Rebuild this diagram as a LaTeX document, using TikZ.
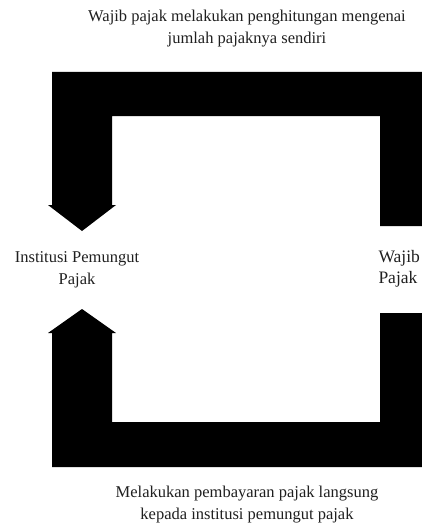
\documentclass[tikz,border=0pt]{standalone}
\usepackage{fontspec}
\setmainfont{Liberation Serif}
\tikzset{
  band/.style={fill=black, draw=none},
  lbl/.style={inner sep=0pt, outer sep=0pt, text=black!88, font=\fontsize{16.5}{22}\selectfont},
  biglbl/.style={lbl, font=\fontsize{17.5}{21}\selectfont}
}
\begin{document}
\begin{tikzpicture}[x=1pt, y=-1pt]
\useasboundingbox (0,0) rectangle (422,524);
\clip (0,0) rectangle (422,524);
% upper arrow: from Wajib Pajak to Institusi Pemungut Pajak
\fill[band] (422,72) -- (52,72) -- (52,205) -- (48,205) -- (82,231) -- (116,205) -- (112,205)
  -- (112,116) -- (380,116) -- (380,226) -- (424,226) -- (424,72) -- cycle;
% lower arrow: from Wajib Pajak back to Institusi Pemungut Pajak
\fill[band] (82,309) -- (116,333) -- (112,333) -- (112,422) -- (380,422) -- (380,313)
  -- (424,313) -- (424,467) -- (52,467) -- (52,333) -- (48,333) -- cycle;
% labels
\node[lbl, anchor=base] (topText) at (247,22)
  {\begin{tabular}[t]{@{}c@{}}Wajib pajak melakukan penghitungan mengenai\\ jumlah pajaknya sendiri\end{tabular}};
\node[lbl, anchor=base] (inst) at (77,262)
  {\begin{tabular}[t]{@{}c@{}}Institusi Pemungut\\ Pajak\end{tabular}};
\node[biglbl, anchor=base west] (wp) at (378.5,262)
  {\begin{tabular}[t]{@{}l@{}}Wajib\\ Pajak\end{tabular}};
\node[lbl, anchor=base] (botText) at (247,497)
  {\begin{tabular}[t]{@{}c@{}}Melakukan pembayaran pajak langsung\\ kepada institusi pemungut pajak\end{tabular}};
\end{tikzpicture}
\end{document}
